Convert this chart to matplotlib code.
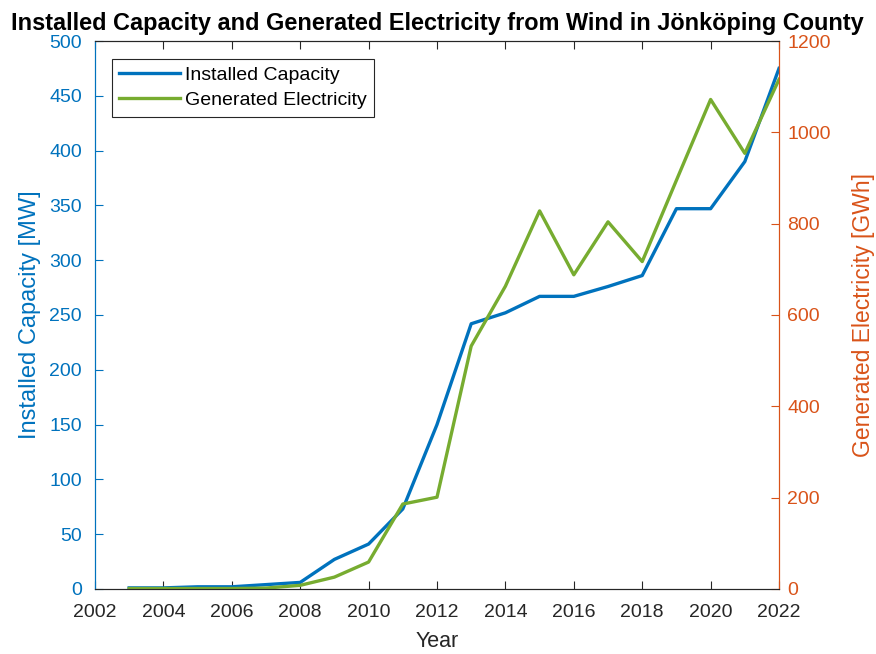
import matplotlib
matplotlib.use("Agg")
import matplotlib.pyplot as plt

plt.rcParams['font.family'] = ['Liberation Sans', 'DejaVu Sans']

years = list(range(2003, 2023))
installed_mw = [1, 1, 2, 2, 4, 6, 27, 41, 73, 150, 242, 252, 267, 267, 276, 286, 347, 347, 390, 475]
generated_gwh = [1, 1, 1, 1, 2, 8, 26, 59, 186, 201, 532, 663, 828, 688, 804, 717, 895, 1072, 954, 1116]

blue = '#0072BD'
green = '#77AC30'
orange = '#D95319'
dark = '#262626'

fig = plt.figure(figsize=(8.76, 6.54), dpi=100)
ax = fig.add_axes([0.1084, 0.0994, 0.7809, 0.8379])
ax2 = ax.twinx()

l1, = ax.plot(years, installed_mw, color=blue, lw=2.4, label='Installed Capacity')
l2, = ax2.plot(years, generated_gwh, color=green, lw=2.4, label='Generated Electricity')

ax.set_xlim(2002, 2022)
ax.set_ylim(0, 500)
ax2.set_ylim(0, 1200)
ax.set_xticks(range(2002, 2023, 2))
ax.set_yticks(range(0, 501, 50))
ax2.set_yticks(range(0, 1201, 200))

ax.tick_params(axis='x', direction='in', top=True, labelsize=14, colors=dark, length=6, pad=11)
ax.tick_params(axis='y', direction='in', colors=blue, labelsize=14, length=6, pad=9.5)
ax2.tick_params(axis='y', direction='in', colors=orange, labelsize=14, length=6, pad=6)

for a in (ax, ax2):
    a.spines['top'].set_color(dark)
    a.spines['bottom'].set_color(dark)
    a.spines['left'].set_color(blue)
    a.spines['right'].set_color(orange)

ax.set_xlabel('Year', fontsize=15.5, color=dark, labelpad=7)
ax.set_ylabel('Installed Capacity [MW]', fontsize=17, color=blue, labelpad=6)
ax2.set_ylabel('Generated Electricity [GWh]', fontsize=16.5, color=orange, labelpad=15)
ax.set_title('Installed Capacity and Generated Electricity from Wind in Jönköping County',
             fontsize=16.9, fontweight='bold', pad=8)

leg = ax.legend(handles=[l1, l2], loc='upper left', bbox_to_anchor=(0.0245, 0.968),
                fontsize=14, fancybox=False, edgecolor=dark, framealpha=1,
                handlelength=3.1, handletextpad=0.25, borderaxespad=0,
                borderpad=0.4, labelspacing=0.38)
leg.get_frame().set_linewidth(0.8)

fig.savefig('out.png', dpi=100)
